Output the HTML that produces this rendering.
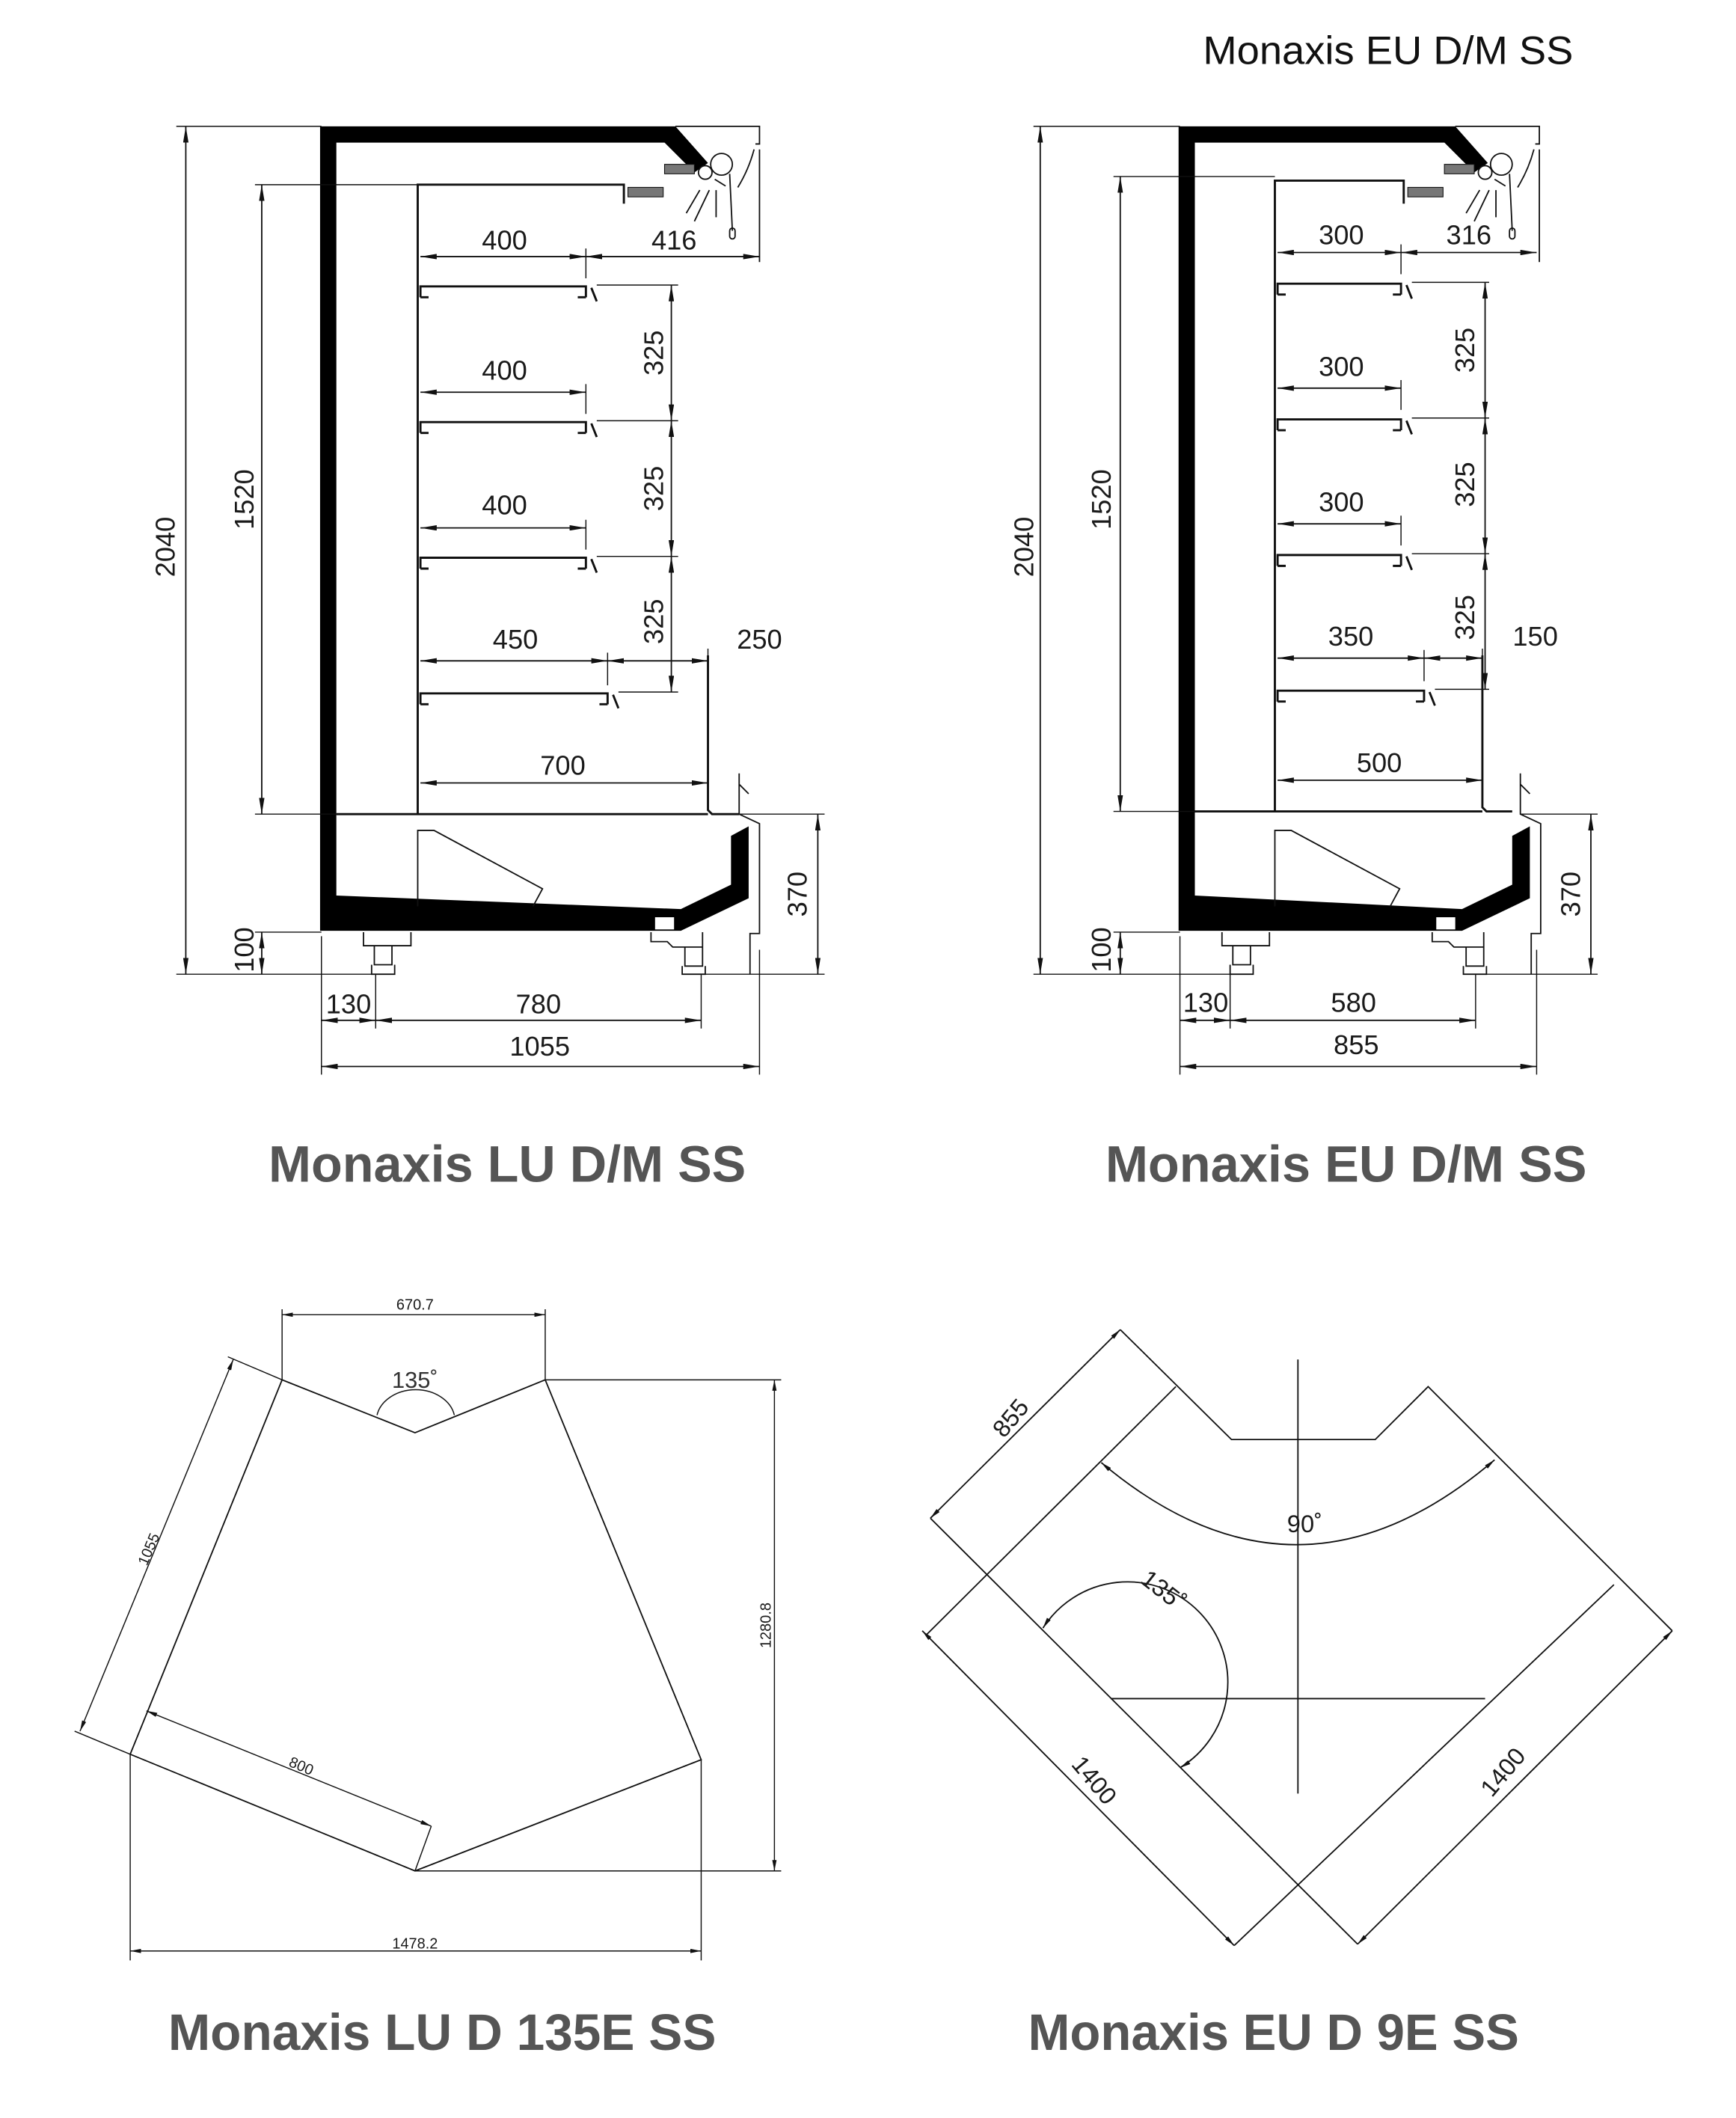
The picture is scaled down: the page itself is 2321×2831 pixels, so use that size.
<!DOCTYPE html>
<html><head><meta charset="utf-8"><style>
html,body{margin:0;padding:0;background:#fff;}
svg{display:block;}
.t{font-family:"Liberation Sans",sans-serif;font-size:20px;fill:#1a1a1a;text-anchor:middle;dominant-baseline:central;}
.s{font-family:"Liberation Sans",sans-serif;font-size:11px;fill:#1a1a1a;text-anchor:middle;dominant-baseline:central;}
.h{font-family:"Liberation Sans",sans-serif;font-size:38px;font-weight:bold;fill:#555;}
.l{stroke:#111;stroke-width:1;fill:none;}
.b{stroke:#111;stroke-width:1.6;fill:none;}
.d{stroke:#111;stroke-width:1;fill:none;marker-start:url(#a);marker-end:url(#a);}
.e{stroke:#111;stroke-width:0.8;fill:none;}
</style></head><body>
<svg width="2321" height="2831" viewBox="0 0 1280 1561" xmlns="http://www.w3.org/2000/svg">
<defs>
<marker id="a" viewBox="0 0 12 4" refX="12" refY="2" markerWidth="12" markerHeight="4" markerUnits="userSpaceOnUse" orient="auto-start-reverse"><path d="M0,0 L12,2 L0,4 z" fill="#111"/></marker>
<marker id="m" viewBox="0 0 10 4" refX="10" refY="2" markerWidth="8" markerHeight="3.2" markerUnits="userSpaceOnUse" orient="auto-start-reverse"><path d="M0,0 L10,2 L0,4 z" fill="#111"/></marker>
</defs>
<rect width="1280" height="1561" fill="#fff"/>

<text x="887" y="47" style="font-family:'Liberation Sans',sans-serif;font-size:29px;fill:#111" textLength="273" lengthAdjust="spacingAndGlyphs">Monaxis EU D/M SS</text>

<!-- ================= LEFT SIDE DRAWING ================= -->
<polygon points="236,93 498,93 522,120 512,127 490,105 248,105 248,660 502,670 539,652 539,616 552,609 552,662 502,686 236,686" fill="#000"/>
<rect x="483" y="676" width="14" height="9" fill="#fff"/>
<path class="l" d="M498,93 H560 V106 H557 M560,110 V193 M556,110 Q552,125 544,138"/>
<path class="b" d="M308,600 V136 H460 V150"/>
<path class="b" d="M248,600 H522 M522,483 V597 L525,600 H545"/>
<path class="l" d="M308,668 V612 H320 L400,655 L393,668"/>
<path class="l" d="M545,570 V600 L560,607 V688 H553 V718 M545,578 L552,585"/>
<path class="l" d="M268,687 V697 H303 V687 M276,697 V711 H289 V697 M274,711 V718 H291 V711"/>
<path class="l" d="M480,687 V694 H492 L496,698 H518 V687 M505,698 V712 H518 V698 M503,712 V718 H520 V712"/>
<!-- lamp -->
<circle cx="520" cy="127" r="5" class="l"/><circle cx="532" cy="121" r="8" class="l"/>
<path class="l" d="M538,128 L540,170 M527,132 L535,137 M516,140 L506,157 M523,140 L512,163 M528,140 L528,160"/>
<rect x="538" y="168" width="4" height="8" rx="2" class="l"/>
<rect x="490" y="121" width="22" height="7" fill="#777" stroke="#111" stroke-width="0.6"/>
<rect x="463" y="138" width="26" height="7" fill="#777" stroke="#111" stroke-width="0.6"/>
<!-- shelves -->
<path class="b" d="M310,219 V211 H432 V219 M310,219 H316 M432,219 H426 M436,212 L440,222"/>
<path class="b" d="M310,319 V311 H432 V319 M310,319 H316 M432,319 H426 M436,312 L440,322"/>
<path class="b" d="M310,419 V411 H432 V419 M310,419 H316 M432,419 H426 M436,412 L440,422"/>
<path class="b" d="M310,519 V511 H448 V519 M310,519 H316 M448,519 H442 M452,512 L456,522"/>
<!-- ext lines -->
<path class="e" d="M130,93 H237 M130,718 H275 M188,136 H308 M188,600 H249 M188,687 H237 M545,600 H608 M520,718 H608 M237,690 V792 M277,718 V758 M517,718 V758 M560,700 V792 M432,183 V205 M432,283 V305 M432,383 V405 M448,481 V505 M522,478 V483 M440,210 H500 M440,310 H500 M440,410 H500 M456,510 H500"/>
<!-- dims -->
<line class="d" x1="137" y1="93" x2="137" y2="718"/>
<line class="d" x1="193" y1="136" x2="193" y2="600"/>
<line class="d" x1="193" y1="687" x2="193" y2="718"/>
<line class="d" x1="603" y1="600" x2="603" y2="718"/>
<line class="d" x1="237" y1="752" x2="277" y2="752"/>
<line class="d" x1="277" y1="752" x2="517" y2="752"/>
<line class="d" x1="237" y1="786" x2="560" y2="786"/>
<line class="d" x1="310" y1="189" x2="432" y2="189"/>
<line class="d" x1="432" y1="189" x2="560" y2="189"/>
<line class="d" x1="495" y1="210" x2="495" y2="310"/>
<line class="d" x1="495" y1="310" x2="495" y2="410"/>
<line class="d" x1="495" y1="410" x2="495" y2="510"/>
<line class="d" x1="310" y1="289" x2="432" y2="289"/>
<line class="d" x1="310" y1="389" x2="432" y2="389"/>
<line class="d" x1="310" y1="487" x2="448" y2="487"/>
<line class="d" x1="448" y1="487" x2="522" y2="487"/>
<line class="d" x1="310" y1="577" x2="522" y2="577"/>
<text class="t" x="372" y="177">400</text><text class="t" x="497" y="177">416</text>
<text class="t" x="372" y="273">400</text><text class="t" x="372" y="372">400</text>
<text class="t" x="380" y="471">450</text><text class="t" x="560" y="471">250</text>
<text class="t" x="415" y="564">700</text>
<text class="t" transform="translate(482,260) rotate(-90)">325</text>
<text class="t" transform="translate(482,360) rotate(-90)">325</text>
<text class="t" transform="translate(482,458) rotate(-90)">325</text>
<text class="t" transform="translate(122,403) rotate(-90)">2040</text>
<text class="t" transform="translate(180,368) rotate(-90)">1520</text>
<text class="t" transform="translate(180,700) rotate(-90)">100</text>
<text class="t" transform="translate(588,659) rotate(-90)">370</text>
<text class="t" x="257" y="740">130</text><text class="t" x="397" y="740">780</text>
<text class="t" x="398" y="771">1055</text>

<!-- ================= RIGHT SIDE DRAWING ================= -->
<polygon points="869,93 1073,93 1097,120 1087,127 1065,105 881,105 881,660 1078,670 1115,652 1115,616 1128,609 1128,662 1078,686 869,686" fill="#000"/>
<rect x="1059" y="676" width="14" height="9" fill="#fff"/>
<path class="l" d="M1073,93 H1135 V106 H1132 M1135,110 V193 M1131,110 Q1127,125 1119,138"/>
<path class="b" d="M940,598 V133 H1035 V150"/>
<path class="b" d="M881,598 H1093 M1093,483 V595 L1096,598 H1115"/>
<path class="l" d="M940,668 V612 H952 L1032,655 L1025,668"/>
<path class="l" d="M1121,570 V600 L1136,607 V688 H1129 V718 M1121,578 L1128,585"/>
<path class="l" d="M901,687 V697 H936 V687 M909,697 V711 H922 V697 M907,711 V718 H924 V711"/>
<path class="l" d="M1056,687 V694 H1068 L1072,698 H1094 V687 M1081,698 V712 H1094 V698 M1079,712 V718 H1096 V712"/>
<circle cx="1095" cy="127" r="5" class="l"/><circle cx="1107" cy="121" r="8" class="l"/>
<path class="l" d="M1113,128 L1115,170 M1102,132 L1110,137 M1091,140 L1081,157 M1098,140 L1087,163 M1103,140 L1103,160"/>
<rect x="1113" y="168" width="4" height="8" rx="2" class="l"/>
<rect x="1065" y="121" width="22" height="7" fill="#777" stroke="#111" stroke-width="0.6"/>
<rect x="1038" y="138" width="26" height="7" fill="#777" stroke="#111" stroke-width="0.6"/>
<path class="b" d="M942,217 V209 H1033 V217 M942,217 H948 M1033,217 H1027 M1037,210 L1041,220"/>
<path class="b" d="M942,317 V309 H1033 V317 M942,317 H948 M1033,317 H1027 M1037,310 L1041,320"/>
<path class="b" d="M942,417 V409 H1033 V417 M942,417 H948 M1033,417 H1027 M1037,410 L1041,420"/>
<path class="b" d="M942,517 V509 H1050 V517 M942,517 H948 M1050,517 H1044 M1054,510 L1058,520"/>
<path class="e" d="M762,93 H870 M762,718 H907 M821,130 H940 M821,598 H881 M821,687 H870 M1121,600 H1178 M1096,718 H1178 M870,690 V792 M907,718 V758 M1088,718 V758 M1133,700 V792 M1033,180 V202 M1033,280 V302 M1033,380 V402 M1050,479 V502 M1093,478 V483 M1041,208 H1098 M1041,308 H1098 M1041,408 H1098 M1058,508 H1098"/>
<line class="d" x1="767" y1="93" x2="767" y2="718"/>
<line class="d" x1="826" y1="130" x2="826" y2="598"/>
<line class="d" x1="826" y1="687" x2="826" y2="718"/>
<line class="d" x1="1173" y1="600" x2="1173" y2="718"/>
<line class="d" x1="870" y1="752" x2="907" y2="752"/>
<line class="d" x1="907" y1="752" x2="1088" y2="752"/>
<line class="d" x1="870" y1="786" x2="1133" y2="786"/>
<line class="d" x1="942" y1="186" x2="1033" y2="186"/>
<line class="d" x1="1033" y1="186" x2="1133" y2="186"/>
<line class="d" x1="1095" y1="208" x2="1095" y2="308"/>
<line class="d" x1="1095" y1="308" x2="1095" y2="408"/>
<line class="d" x1="1095" y1="408" x2="1095" y2="508"/>
<line class="d" x1="942" y1="286" x2="1033" y2="286"/>
<line class="d" x1="942" y1="386" x2="1033" y2="386"/>
<line class="d" x1="942" y1="485" x2="1050" y2="485"/>
<line class="d" x1="1050" y1="485" x2="1093" y2="485"/>
<line class="d" x1="942" y1="575" x2="1093" y2="575"/>
<text class="t" x="989" y="173">300</text><text class="t" x="1083" y="173">316</text>
<text class="t" x="989" y="270">300</text><text class="t" x="989" y="370">300</text>
<text class="t" x="996" y="469">350</text><text class="t" x="1132" y="469">150</text>
<text class="t" x="1017" y="562">500</text>
<text class="t" transform="translate(1080,258) rotate(-90)">325</text>
<text class="t" transform="translate(1080,357) rotate(-90)">325</text>
<text class="t" transform="translate(1080,455) rotate(-90)">325</text>
<text class="t" transform="translate(755,403) rotate(-90)">2040</text>
<text class="t" transform="translate(812,368) rotate(-90)">1520</text>
<text class="t" transform="translate(812,700) rotate(-90)">100</text>
<text class="t" transform="translate(1158,659) rotate(-90)">370</text>
<text class="t" x="889" y="739">130</text><text class="t" x="998" y="739">580</text>
<text class="t" x="1000" y="770">855</text>

<text class="h" x="198" y="871" textLength="352" lengthAdjust="spacingAndGlyphs">Monaxis LU D/M SS</text>
<text class="h" x="815" y="871" textLength="355" lengthAdjust="spacingAndGlyphs">Monaxis EU D/M SS</text>

<!-- ================= BOTTOM LEFT 135E ================= -->
<polygon class="l" points="208,1017 306,1056 402,1017 517,1297 306,1379 96,1293"/>
<path class="e" d="M208,1017 V965 M402,1017 V965 M402,1017 H576 M306,1379 H576 M96,1293 V1445 M517,1297 V1445 M208,1017 L168,1000 M96,1293 L55,1276 M318,1346 L306,1379"/>
<line class="e" x1="208" y1="969" x2="402" y2="969" marker-start="url(#m)" marker-end="url(#m)"/>
<line class="e" x1="571" y1="1017" x2="571" y2="1379" marker-start="url(#m)" marker-end="url(#m)"/>
<line class="e" x1="96" y1="1438" x2="517" y2="1438" marker-start="url(#m)" marker-end="url(#m)"/>
<line class="e" x1="172" y1="1002" x2="59" y2="1276" marker-start="url(#m)" marker-end="url(#m)"/>
<line class="e" x1="108" y1="1261" x2="318" y2="1346" marker-start="url(#m)" marker-end="url(#m)"/>
<path class="e" d="M278,1043 A29,23 0 0 1 335,1043"/>
<text class="s" x="306" y="962">670.7</text>
<text class="s" x="306" y="1433">1478.2</text>
<text class="s" transform="translate(565,1198) rotate(-90)">1280.8</text>
<text class="s" transform="translate(110,1142) rotate(-67)">1055</text>
<text class="s" transform="translate(222,1302) rotate(23)">800</text>
<text class="t" x="306" y="1017" style="font-size:17px;fill:#333">135˚</text>

<!-- ================= BOTTOM RIGHT 9E ================= -->
<path class="l" d="M826,980 L908,1061 H1014 L1053,1022 L1233,1202 M686,1119 L1001,1433 M867,1022 L683,1205 M1190,1168 L910,1434"/>
<line class="l" x1="826" y1="980" x2="686" y2="1119" marker-start="url(#m)" marker-end="url(#m)"/>
<line class="l" x1="680" y1="1202" x2="910" y2="1434" marker-start="url(#m)" marker-end="url(#m)"/>
<line class="l" x1="1001" y1="1433" x2="1233" y2="1202" marker-start="url(#m)" marker-end="url(#m)"/>
<path class="l" d="M957,1002 V1322 M819,1252 H1095"/>
<path class="l" d="M812,1078 Q957,1200 1102,1076" marker-start="url(#m)" marker-end="url(#m)"/>
<path class="l" d="M769,1200 A74,74 0 1 1 870,1303" marker-start="url(#m)" marker-end="url(#m)"/>
<text class="t" x="962" y="1123" style="font-size:18px">90˚</text>
<text class="t" transform="translate(858,1172) rotate(38)" style="font-size:18px">135˚</text>
<text class="t" transform="translate(745,1045) rotate(-50)" style="font-size:18px">855</text>
<text class="t" transform="translate(807,1312) rotate(50)" style="font-size:18px">1400</text>
<text class="t" transform="translate(1108,1306) rotate(-50)" style="font-size:18px">1400</text>

<text class="h" x="124" y="1511" textLength="404" lengthAdjust="spacingAndGlyphs">Monaxis LU D 135E SS</text>
<text class="h" x="758" y="1511" textLength="362" lengthAdjust="spacingAndGlyphs">Monaxis EU D 9E SS</text>
</svg>
</body></html>
